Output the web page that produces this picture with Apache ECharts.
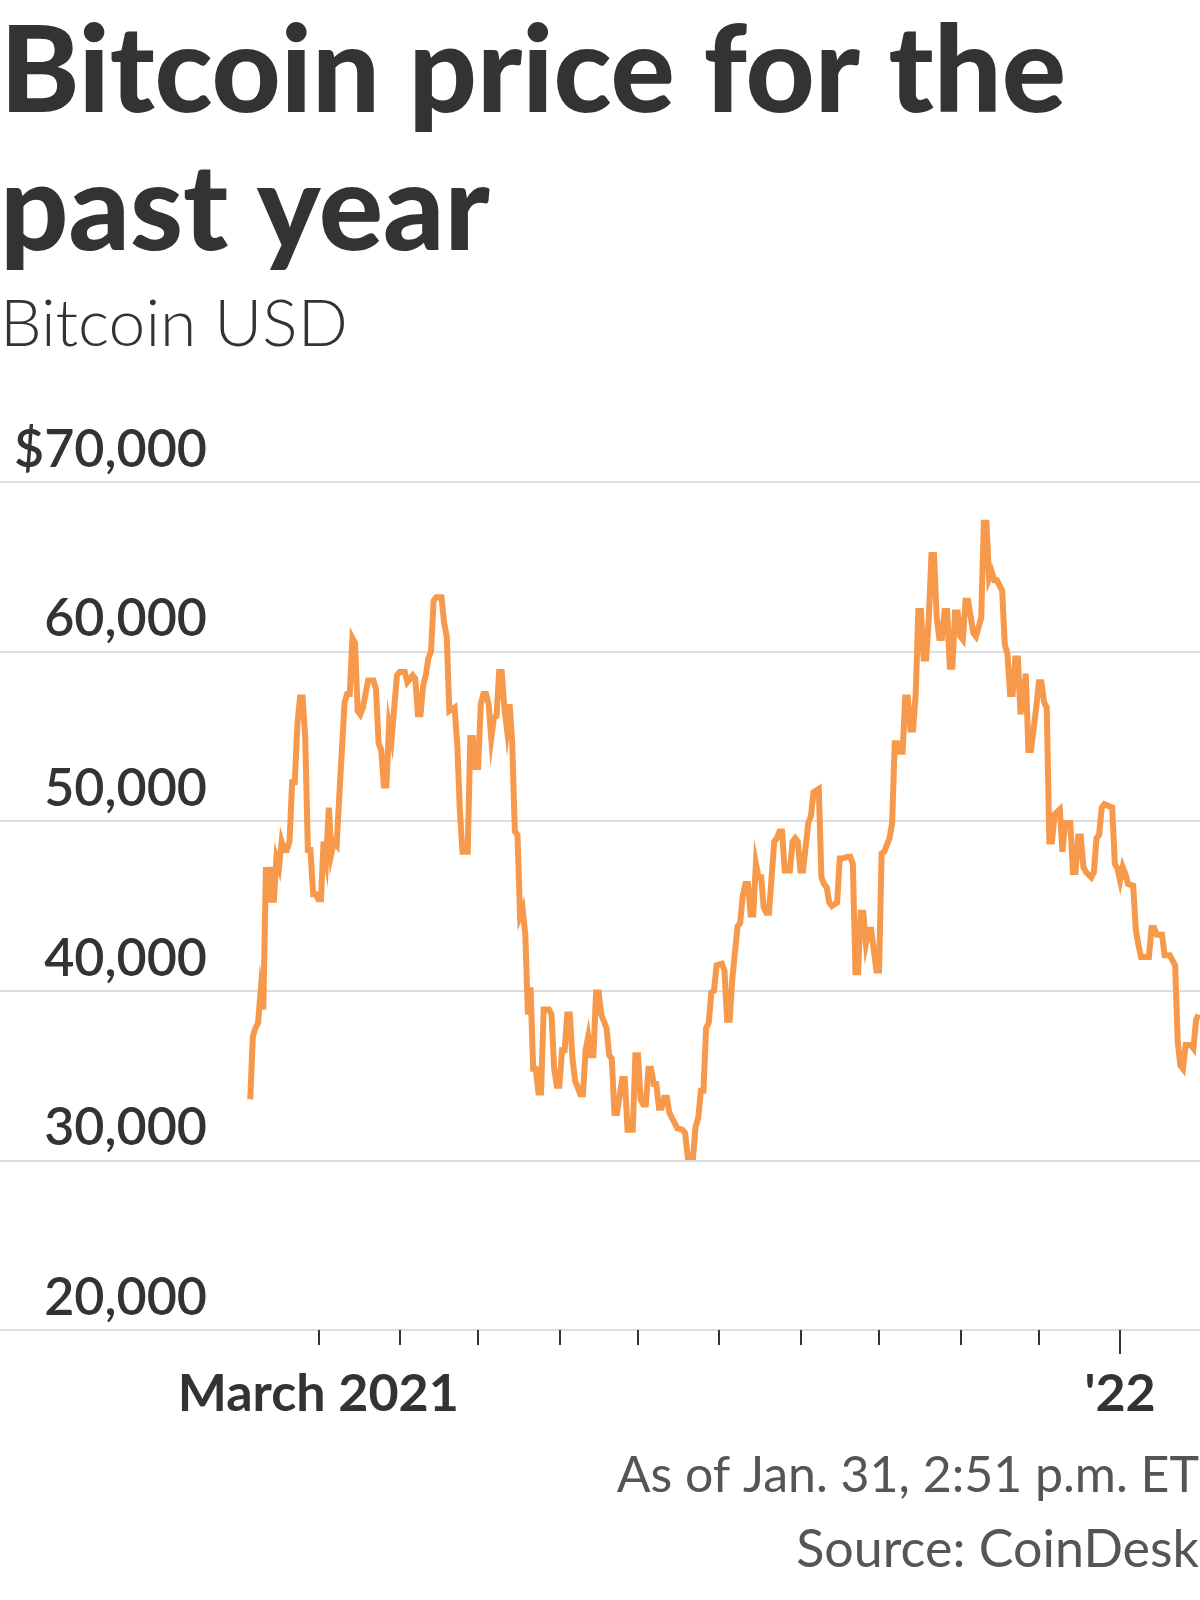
<!DOCTYPE html>
<html>
<head>
<meta charset="utf-8">
<script src="https://cdn.jsdelivr.net/npm/echarts@6/dist/echarts.min.js"></script>
<style>
html,body{margin:0;padding:0;background:#fff;}
#chart{width:1200px;height:1600px;}
</style>
</head>
<body>
<div id="chart"></div>
<script>
// ---- data ----
const dates = [
'2021-02-03','2021-02-04','2021-02-05','2021-02-06','2021-02-07','2021-02-08','2021-02-09','2021-02-10','2021-02-11','2021-02-12',
'2021-02-13','2021-02-14','2021-02-15','2021-02-16','2021-02-17','2021-02-18','2021-02-19','2021-02-20','2021-02-21','2021-02-22',
'2021-02-23','2021-02-24','2021-02-25','2021-02-26','2021-02-27','2021-02-28','2021-03-01','2021-03-02','2021-03-03','2021-03-04',
'2021-03-05','2021-03-06','2021-03-07','2021-03-08','2021-03-09','2021-03-11','2021-03-12','2021-03-13','2021-03-14','2021-03-15',
'2021-03-16','2021-03-17','2021-03-18','2021-03-20','2021-03-22','2021-03-23','2021-03-24','2021-03-25','2021-03-26','2021-03-27',
'2021-03-28','2021-03-29','2021-03-31','2021-04-01','2021-04-03','2021-04-04','2021-04-06','2021-04-07','2021-04-08','2021-04-09',
'2021-04-10','2021-04-11','2021-04-12','2021-04-13','2021-04-14','2021-04-15','2021-04-17','2021-04-18','2021-04-19','2021-04-20',
'2021-04-22','2021-04-23','2021-04-24','2021-04-25','2021-04-27','2021-04-28','2021-04-29','2021-04-30','2021-05-01','2021-05-02',
'2021-05-03','2021-05-04','2021-05-05','2021-05-06','2021-05-07','2021-05-08','2021-05-09','2021-05-10','2021-05-11','2021-05-12',
'2021-05-13','2021-05-14','2021-05-15','2021-05-16','2021-05-17','2021-05-18','2021-05-19','2021-05-20','2021-05-21','2021-05-22',
'2021-05-23','2021-05-24','2021-05-25','2021-05-26','2021-05-28','2021-05-29','2021-05-30','2021-05-31','2021-06-01','2021-06-02',
'2021-06-03','2021-06-04','2021-06-05','2021-06-06','2021-06-07','2021-06-09','2021-06-10','2021-06-11','2021-06-12','2021-06-13',
'2021-06-14','2021-06-15','2021-06-16','2021-06-17','2021-06-19','2021-06-20','2021-06-21','2021-06-22','2021-06-23','2021-06-25',
'2021-06-26','2021-06-27','2021-06-29','2021-06-30','2021-07-01','2021-07-02','2021-07-03','2021-07-04','2021-07-05','2021-07-06',
'2021-07-07','2021-07-08','2021-07-09','2021-07-10','2021-07-11','2021-07-12','2021-07-13','2021-07-14','2021-07-16','2021-07-18',
'2021-07-19','2021-07-20','2021-07-22','2021-07-23','2021-07-24','2021-07-25','2021-07-26','2021-07-27','2021-07-28','2021-07-29',
'2021-07-30','2021-07-31','2021-08-02','2021-08-03','2021-08-04','2021-08-05','2021-08-06','2021-08-08','2021-08-09','2021-08-10',
'2021-08-11','2021-08-12','2021-08-13','2021-08-14','2021-08-15','2021-08-16','2021-08-17','2021-08-18','2021-08-19','2021-08-20',
'2021-08-22','2021-08-23','2021-08-24','2021-08-25','2021-08-26','2021-08-28','2021-08-29','2021-08-30','2021-08-31','2021-09-01',
'2021-09-02','2021-09-04','2021-09-05','2021-09-06','2021-09-08','2021-09-09','2021-09-10','2021-09-11','2021-09-12','2021-09-13',
'2021-09-15','2021-09-16','2021-09-17','2021-09-19','2021-09-20','2021-09-21','2021-09-22','2021-09-23','2021-09-24','2021-09-25',
'2021-09-26','2021-09-27','2021-09-28','2021-09-30','2021-10-01','2021-10-02','2021-10-03','2021-10-05','2021-10-06','2021-10-07',
'2021-10-08','2021-10-09','2021-10-10','2021-10-11','2021-10-12','2021-10-13','2021-10-14','2021-10-15','2021-10-16','2021-10-17',
'2021-10-18','2021-10-19','2021-10-20','2021-10-21','2021-10-22','2021-10-23','2021-10-24','2021-10-25','2021-10-26','2021-10-27',
'2021-10-28','2021-10-29','2021-10-30','2021-10-31','2021-11-01','2021-11-02','2021-11-03','2021-11-04','2021-11-06','2021-11-07',
'2021-11-09','2021-11-10','2021-11-11','2021-11-12','2021-11-13','2021-11-14','2021-11-15','2021-11-17','2021-11-18','2021-11-19',
'2021-11-20','2021-11-21','2021-11-22','2021-11-23','2021-11-24','2021-11-25','2021-11-26','2021-11-27','2021-11-28','2021-11-30',
'2021-12-01','2021-12-02','2021-12-03','2021-12-04','2021-12-05','2021-12-06','2021-12-07','2021-12-09','2021-12-10','2021-12-11',
'2021-12-13','2021-12-14','2021-12-15','2021-12-16','2021-12-17','2021-12-18','2021-12-19','2021-12-21','2021-12-22','2021-12-23',
'2021-12-24','2021-12-25','2021-12-26','2021-12-29','2021-12-30','2021-12-31','2022-01-01','2022-01-02','2022-01-03','2022-01-04',
'2022-01-06','2022-01-07','2022-01-08','2022-01-09','2022-01-12','2022-01-13','2022-01-14','2022-01-15','2022-01-17','2022-01-18',
'2022-01-20','2022-01-21','2022-01-22','2022-01-23','2022-01-24','2022-01-25','2022-01-26','2022-01-28','2022-01-29','2022-01-30',
'2022-01-31'
];
const prices = [
33600,37300,37800,38100,40000,38900,47300,45200,47300,45200,
47800,47300,48800,48300,48300,48800,52300,52300,55700,57300,
57300,54900,48300,48300,45700,45700,45400,45400,48800,47800,
50800,48100,48800,48600,51500,57000,57500,57500,60800,60500,
56500,56300,56700,58300,58300,57800,54600,54200,52100,52100,
55700,54900,58600,58800,58800,58200,58600,58400,56300,56300,
58000,58600,59600,60000,63000,63200,63200,61700,60900,56500,
56700,54600,50700,48200,48200,54900,54900,53200,53200,56900,
57500,57500,56900,54900,56100,56200,58800,58800,56700,55400,
56900,54600,49400,49200,44400,44800,43300,38600,40200,35400,
35400,34000,34000,38900,38900,38600,35400,34400,34400,36500,
36500,38600,38600,36000,34700,33900,33900,36500,37300,36200,
36200,39900,39900,38600,37800,36200,36000,32800,32800,34800,
34800,31800,31800,36200,36200,33600,33300,33300,35400,35400,
34500,34500,33100,33100,33700,33700,32800,32500,31900,31800,
31600,30200,30200,32000,32500,34100,34100,37800,38100,39900,
40000,41500,41600,41200,38300,38300,40700,43800,44000,45600,
46300,46300,44500,44500,47500,46700,46700,44900,44600,44600,
48800,49000,49400,49400,47100,47100,48800,49000,48800,47100,
47100,49900,50300,51700,51900,46700,46300,46100,45200,45000,
45200,47800,47800,47900,47900,47500,41100,41100,44600,44600,
42800,43600,43600,41200,41200,48100,48200,49000,49900,54600,
54600,54100,54100,57300,57300,55400,55400,57500,62400,62400,
59600,59600,62000,65700,65700,62000,60800,60800,62400,62400,
59100,59100,62300,62300,60900,60700,63000,63000,61100,60900,
62000,67600,67600,64300,64700,64200,64200,63600,60400,59900,
57500,57500,59600,59600,56300,57300,58700,54200,54200,56700,
58200,58200,57000,56700,48800,48800,50400,50700,48200,49900,
49900,47000,47000,49100,49100,47300,47000,46700,47000,49000,
49200,50800,51000,50800,47500,47200,46500,47300,46900,46300,
46200,43600,42700,42000,42000,43700,43700,43300,43300,42100,
42100,41800,41500,37000,35600,35400,36800,36800,36600,38300,
38600
];
const yTickValues = [20000, 30000, 40000, 50000, 60000, 70000];
const yTickLabels = ['20,000', '30,000', '40,000', '50,000', '60,000', '$70,000'];
const monthTickDates = ['2021-03-01','2021-04-01','2021-05-01','2021-06-01','2021-07-01','2021-08-01',
                        '2021-09-01','2021-10-01','2021-11-01','2021-12-01'];
const yearTickDate = '2022-01-01';
const xLabelDates = ['2021-03-01', '2022-01-01'];
const xLabelTexts = ['March 2021', "'22"];

// ---- helpers ----
const DAY = 86400000;
function ts(s) { const p = s.split('-').map(Number); return Date.UTC(p[0], p[1] - 1, p[2]); }
const seriesData = dates.map((d, i) => [ts(d), prices[i]]);
const xMin = ts('2021-03-01') - 121.5 * DAY;
const xMax = ts('2022-01-31') + 0.5 * DAY;
const labelTs = xLabelDates.map(ts);
const FONT = 'Lato, "Noto Sans", sans-serif';
const DARK = '#333333';

const chart = echarts.init(document.getElementById('chart'), null, {renderer: 'canvas'});
function txt(text, x, yBase, size, weight, color, align) {
  const y = yBase - 0.3225 * size;
  return {
    type: 'text', x: 0, y: 0, silent: true,
    style: {
      text: text, x: x, y: y,
      fontFamily: FONT, fontSize: size, fontWeight: weight, fill: color,
      align: align, textAlign: align, verticalAlign: 'middle', textVerticalAlign: 'middle'
    }
  };
}

const option = {
  animation: false,
  backgroundColor: '#ffffff',
  grid: { left: 0, right: 0, top: 482, bottom: 270, containLabel: false },
  xAxis: [{
    type: 'value', min: xMin, max: xMax, scale: true,
    axisLine: { show: false },
    splitLine: { show: false },
    axisTick: {
      show: true, length: 15, customValues: monthTickDates.map(ts),
      lineStyle: { color: DARK, width: 2 }
    },
    axisLabel: {
      show: true, customValues: labelTs, margin: 38,
      fontFamily: FONT, fontSize: 52, fontWeight: 'bold', color: DARK, lineHeight: 52,
      hideOverlap: false, showMinLabel: true, showMaxLabel: true,
      formatter: function (v) {
        for (let i = 0; i < labelTs.length; i++) { if (Math.abs(labelTs[i] - v) < DAY / 2) return xLabelTexts[i]; }
        return '';
      }
    }
  }, {
    type: 'value', min: xMin, max: xMax, scale: true, position: 'bottom',
    axisLine: { show: false }, splitLine: { show: false },
    axisTick: { show: true, length: 24, customValues: [ts(yearTickDate)], lineStyle: { color: DARK, width: 2 } },
    axisLabel: { show: false }
  }],
  yAxis: {
    type: 'value', min: yTickValues[0], max: yTickValues[yTickValues.length - 1], interval: 10000,
    axisLine: { show: false }, axisTick: { show: false },
    splitLine: { show: true, lineStyle: { color: '#dddddd', width: 2 } },
    axisLabel: {
      inside: true, margin: 207, align: 'right', verticalAlign: 'bottom',
      lineHeight: 52, padding: [0, 0, 6, 0],
      fontFamily: FONT, fontSize: 52, fontWeight: 600, color: DARK,
      formatter: function (v) { const i = yTickValues.indexOf(v); return i >= 0 ? yTickLabels[i] : ''; }
    }
  },
  series: [{
    type: 'line', xAxisIndex: 0, yAxisIndex: 0,
    data: seriesData, showSymbol: false, symbol: 'none',
    lineStyle: { color: '#F7994B', width: 6, join: 'miter' },
    silent: true
  }],
  graphic: { elements: [
    txt('Bitcoin price for the', 0, 112, 120, 900, DARK, 'left'),
    txt('past year', 0, 250, 120, 900, DARK, 'left'),
    txt('Bitcoin USD', 0, 346, 66, 300, DARK, 'left'),
    txt('As of Jan. 31, 2:51 p.m. ET', 1199, 1492, 50, 'normal', '#555555', 'right'),
    txt('Source: CoinDesk', 1199, 1567, 52, 'normal', '#555555', 'right')
  ]}
};
chart.setOption(option);
</script>
</body>
</html>
